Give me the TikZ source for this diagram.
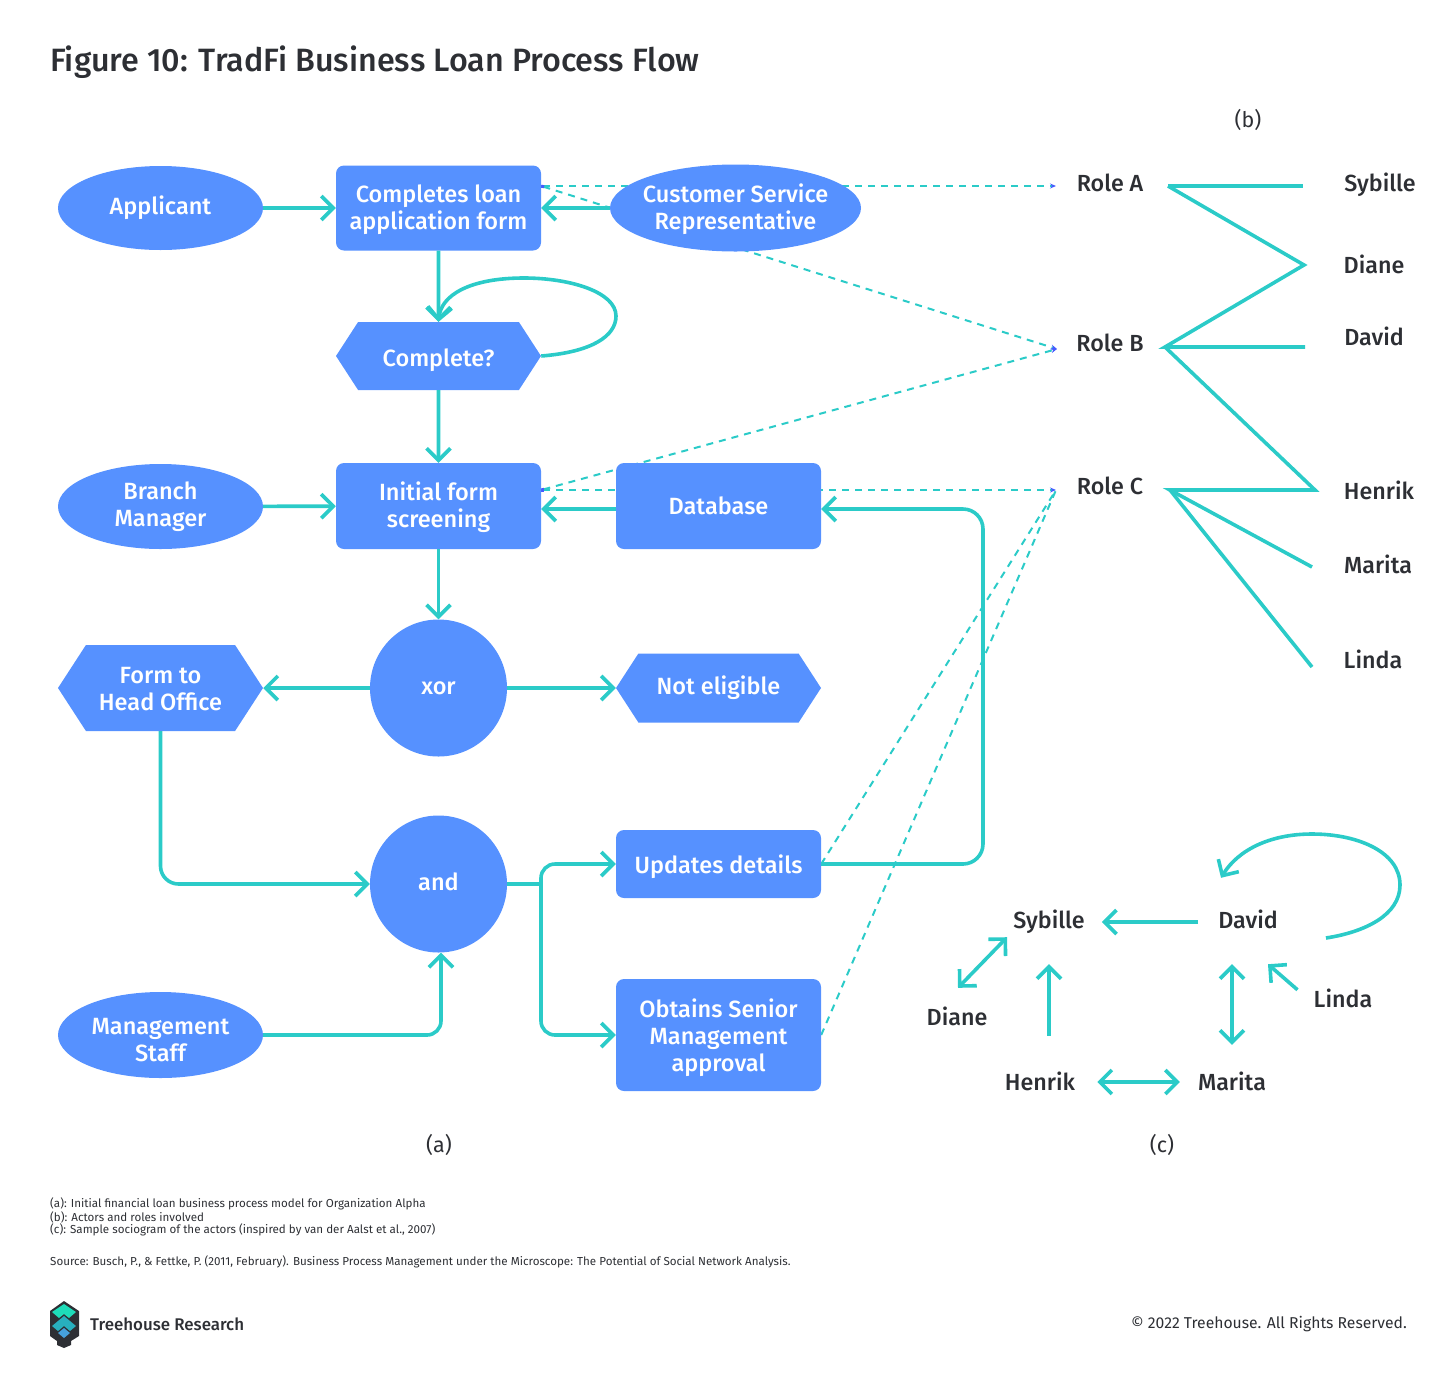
\documentclass[tikz,border=0pt]{standalone}
\usepackage{xcolor}
\usepackage{fontspec}
\usepackage{tikz}
\usetikzlibrary{arrows.meta,shapes.geometric,shapes.symbols,backgrounds}
\setmainfont{Fira Sans}[BoldFont={Fira Sans Medium}]
\definecolor{boxblue}{RGB}{86,145,255}
\definecolor{linkteal}{RGB}{43,203,200}
\definecolor{inkgrey}{RGB}{45,47,52}
\definecolor{tipblue}{RGB}{70,90,255}
\definecolor{logotop}{RGB}{30,220,185}
\definecolor{logomid}{RGB}{40,175,190}
\definecolor{logolow}{RGB}{70,160,220}
\newcommand{\topgap}[1]{\rule{0pt}{#1}}
\tikzset{
  shapetext/.style={text=white,align=center,font=\fontsize{23.5}{27}\selectfont\bfseries,inner sep=0pt},
  procbox/.style={shapetext,draw=none,fill=boxblue,rectangle,rounded corners=8pt,minimum width=205pt},
  actor/.style={shapetext,fill=boxblue,ellipse,minimum width=205pt,minimum height=84pt},
  hexbox/.style={shapetext,fill=boxblue,signal,signal to=east and west,signal pointer angle=114,minimum width=205pt},
  gate/.style={shapetext,fill=boxblue,circle,minimum size=137pt},
  person/.style={text=inkgrey,font=\fontsize{23.3}{27}\selectfont\bfseries,inner sep=0pt,text height=20pt,text depth=4pt},
  caption/.style={text=inkgrey,font=\fontsize{21.5}{26}\selectfont,inner sep=0pt},
  smallnote/.style={text=inkgrey,anchor=west,font=\fontsize{11.6}{13}\selectfont,inner sep=0pt},
  link/.style={draw=linkteal,line width=3.6pt},
  roleline/.style={draw=linkteal,line width=2pt,dash pattern=on 7pt off 6pt},
  bluetip/.style={{Square[length=3pt,width=3pt,tipblue]}-{Stealth[length=6pt,width=5pt,tipblue]}}
}
\begin{document}
\begin{tikzpicture}[x=1pt,y=-1pt,>={Straight Barb[length=12pt,width=24pt,line width=3.6pt]}]
\useasboundingbox (0,0) rectangle (1456,1385);
\node [anchor=west,inner sep=0pt,text=inkgrey,font=\fontsize{32.3}{38}\selectfont\bfseries] (title) at (50,62.5) {Figure 10: TradFi Business Loan Process Flow};
% process model
\node [actor] (applicant) at (160.5,208) {Applicant};
\node [procbox,minimum height=85pt] (completes) at (438.5,208) {\topgap{21pt}Completes loan\\application form};
\node [actor,inner xsep=-5pt,minimum width=251pt,minimum height=87pt] (csr) at (735.5,208) {\topgap{21pt}Customer Service\\Representative};
\node [hexbox,minimum height=68pt,text height=20pt,text depth=0pt] (complete) at (438.5,356) {Complete?};
\node [actor,minimum height=85pt] (branch) at (160.5,506.5) {\topgap{19pt}Branch\\Manager};
\node [procbox,minimum height=86pt] (initial) at (438.5,506) {\topgap{21pt}Initial form\\screening};
\node [procbox,minimum height=86pt] (database) at (718.5,506) {Database};
\node [gate] (xor) at (438.5,688) {xor};
\node [hexbox,minimum height=86pt] (form) at (160.5,688) {\topgap{19pt}Form to\\Head Office};
\node [hexbox,minimum height=69pt] (noteligible) at (718.5,688) {Not eligible};
\node [gate,text depth=4pt] (and) at (438.5,884) {and};
\node [procbox,minimum height=68pt,text depth=0pt] (updates) at (718.5,864) {Updates details};
\node [procbox,minimum height=112pt] (obtains) at (718.5,1035) {\topgap{24pt}Obtains Senior\\Management\\approval};
\node [actor,minimum height=86pt] (mgmt) at (160.5,1035) {\topgap{27pt}Management\\Staff};
\coordinate (split) at (541,884);
\coordinate (dbturn) at (983,686);
% roles and actors
\node [person] (rolea) at (1110,183) {Role A};
\node [person] (roleb) at (1110,343) {Role B};
\node [person] (rolec) at (1110,486) {Role C};
\node [person] (sybilleb) at (1380,183) {Sybille};
\node [person] (dianeb) at (1374,265) {Diane};
\node [person] (davidb) at (1374,337) {David};
\node [person] (henrikb) at (1379,491) {Henrik};
\node [person] (maritab) at (1378,565) {Marita};
\node [person] (lindab) at (1373,660) {Linda};
\coordinate (roleaend) at (1056,186);
\coordinate (rolebend) at (1057,349);
\coordinate (rolecend) at (1056,490);
\coordinate (roleafork) at (1168,186);
\coordinate (rolebfork) at (1165,347);
\coordinate (rolecfork) at (1170,490);
\coordinate (sybilleend) at (1303,186);
\coordinate (dianeend) at (1304,265);
\coordinate (davidend) at (1305,347);
\coordinate (henrikend) at (1315,490);
\coordinate (maritaend) at (1312,567);
\coordinate (lindaend) at (1312,667);
% sociogram
\node [person] (sybille) at (1049,920) {Sybille};
\node [person] (david) at (1248,920) {David};
\node [person] (diane) at (957,1017) {Diane};
\node [person] (linda) at (1343,999) {Linda};
\node [person] (henrik) at (1040,1082) {Henrik};
\node [person] (marita) at (1232,1082) {Marita};
% captions and notes
\node [caption] (capa) at (439,1145) {(a)};
\node [caption] (capb) at (1248,120) {(b)};
\node [caption] (capc) at (1162,1145) {(c)};
\node [smallnote] (notea) at (50,1204) {(a): Initial financial loan business process model for Organization Alpha};
\node [smallnote] (noteb) at (50,1217) {(b): Actors and roles involved};
\node [smallnote] (notec) at (50,1230) {(c): Sample sociogram of the actors (inspired by van der Aalst et al., 2007)};
\node [smallnote] (source) at (50,1262) {Source: Busch, P., \& Fettke, P. (2011, February). Business Process Management under the Microscope: The Potential of Social Network Analysis.};
\node [anchor=west,inner sep=0pt,text=inkgrey,font=\fontsize{16.9}{20}\selectfont\bfseries] (brand) at (90,1324) {Treehouse Research};
\node [anchor=east,inner sep=0pt,text=inkgrey,font=\fontsize{15.7}{19}\selectfont] (rights) at (1407,1324.5) {© 2022 Treehouse. All Rights Reserved.};
% dashed role lines go behind the boxes
\begin{scope}[on background layer]
\draw [roleline,bluetip] ([yshift=22pt]completes.east) -- (roleaend);
\draw [roleline,bluetip] ([yshift=22pt]completes.east) -- (rolebend);
\draw [roleline,bluetip] ([yshift=16pt]initial.east) -- (rolebend);
\draw [roleline,bluetip] ([yshift=16pt]initial.east) -- (rolecend);
\draw [roleline] (updates.east) -- (rolecend);
\draw [roleline] (obtains.east) -- (rolecend);
\end{scope}
% process flow
\draw [link,->] (applicant) -- (completes);
\draw [link,->] (csr) -- (completes);
\draw [link,->] (completes) -- (complete);
\draw [link,->] (complete.east) .. controls (592,352) and (616,336) .. (616,316) .. controls (616,292) and (570,278) .. (524,278) .. controls (470,278) and (441,295) .. (complete.north);
\draw [link,->] (complete) -- (initial);
\draw [link,->] (branch) -- (initial);
\draw [link,->] ([yshift=-3pt]database.west) -- ([yshift=-3pt]initial.east);
\draw [link,->] (initial) -- (xor);
\draw [link,->] (xor) -- (form);
\draw [link,->] (xor) -- (noteligible);
\draw [link,->,rounded corners=18pt] (form) |- (and);
\draw [link,->,rounded corners=14pt] (mgmt) -| ([xshift=2.5pt]and.south);
\draw [link] (and) -- (split);
\draw [link,->,rounded corners=14pt] (split) |- (updates);
\draw [link,->,rounded corners=14pt] (split) |- (obtains);
\draw [link,->,rounded corners=20pt] (updates) -| (dbturn) |- ([yshift=-3pt]database.east);
% actors to roles
\draw [link] (roleafork) -- (sybilleend);
\draw [link] (roleafork) -- (dianeend) -- (rolebfork) -- (davidend);
\draw [link] (rolebfork) -- (henrikend) -- (rolecfork) -- (maritaend);
\draw [link] (rolecfork) -- (lindaend);
% sociogram links
\draw [link,->,shorten <=20pt,shorten >=17pt] ([yshift=-2pt]david.west) -- ([yshift=-2pt]sybille.east);
\draw [link,<->] ([shift={(1,-17)}]diane.north) -- ([shift={(-6,5)}]sybille.south west);
\draw [link,->,shorten <=34pt,shorten >=32pt] (henrik.north -| sybille.south) -- (sybille.south);
\draw [link,<->,shorten <=32pt,shorten >=25pt] (david.south -| marita.north) -- (marita.north);
\draw [link,->] ([shift={(-16,3)}]linda.north west) -- ([shift={(20,32)}]david.south);
\draw [link,<->,shorten <=22pt,shorten >=18pt] (henrik.east) -- (marita.west);
\draw [link,->] ([shift={(48,18)}]david.east) .. controls (1365,932) and (1400,915) .. (1400,885) .. controls (1400,852) and (1358,834) .. (1312,834) .. controls (1270,834) and (1238,850) .. ([shift={(-27,-30)}]david.north);
% logo
\fill [inkgrey] (64,1301) -- (79,1311) -- (79,1336) -- (71,1341) -- (71,1345) -- (64,1348) -- (57,1345) -- (57,1341) -- (50,1336) -- (50,1311) -- cycle;
\fill [logotop] (64,1304) -- (76,1312) -- (69,1318) -- (64,1314) -- (59,1318) -- (52,1312) -- cycle;
\fill [logomid] (64,1316) -- (76,1326) -- (70,1331) -- (64,1326) -- (58,1331) -- (52,1326) -- cycle;
\fill [logolow] (64,1328) -- (70,1333) -- (64,1338) -- (58,1333) -- cycle;
\end{tikzpicture}
\end{document}
